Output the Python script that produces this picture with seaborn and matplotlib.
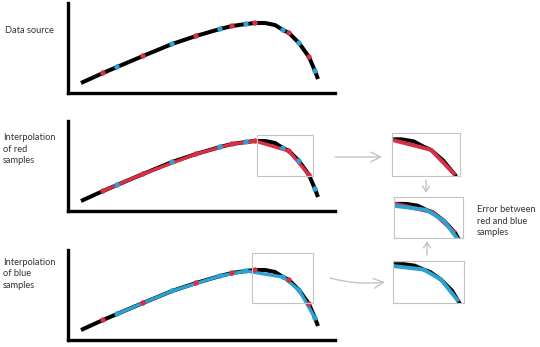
import matplotlib
matplotlib.use("Agg")
import matplotlib.pyplot as plt
import seaborn as sns
from matplotlib.patches import Rectangle

sns.set_style("white")
plt.rcParams['font.family'] = ['Lato', 'DejaVu Sans']

# ---- data ----
curve_x = [13, 35, 49, 75, 104, 128, 152, 164, 178, 187, 197, 207, 215, 221, 231, 241, 247, 250]
curve_y = [10, 20, 26, 37, 49, 57, 64, 67, 69, 70, 70, 68, 63, 60, 50, 36, 22, 14]
red_x = [35, 75, 128, 164, 187, 221, 241]
red_y = [20, 37, 57, 67, 70, 60, 36]
blue_x = [49, 104, 152, 178, 215, 231, 247]
blue_y = [26, 49, 64, 69, 63, 50, 22]

row_labels = ["Data source", "Interpolation\nof red\nsamples", "Interpolation\nof blue\nsamples"]
error_label = "Error between\nred and blue\nsamples"

RED = "#d92f45"
BLUE = "#2aa3d4"
GREY = "#c4c4c4"
W, H = 540, 347

fig = plt.figure(figsize=(5.4, 3.47), dpi=100)
fig.patch.set_facecolor("white")

overlay = fig.add_axes([0, 0, 1, 1])
overlay.set_xlim(0, W)
overlay.set_ylim(H, 0)
overlay.axis("off")


def px_axes(left, top, right, bottom, z=2):
    ax = fig.add_axes([left / W, 1 - bottom / H, (right - left) / W, (bottom - top) / H], zorder=z)
    ax.set_facecolor("none")
    ax.set_xticks([])
    ax.set_yticks([])
    ax.set_xlabel("")
    ax.set_ylabel("")
    return ax


def line(ax, x, y, color, lw):
    sns.lineplot(x=x, y=y, ax=ax, color=color, linewidth=lw, sort=False,
                 estimator=None, solid_capstyle="butt")


def dots(ax, x, y, color):
    sns.scatterplot(x=x, y=y, ax=ax, color=color, s=15, edgecolor="none", zorder=3)


def main_panel(top, bottom):
    ax = px_axes(68, top, 335, bottom)
    for s in ["top", "right"]:
        ax.spines[s].set_visible(False)
    for s in ["left", "bottom"]:
        ax.spines[s].set_color("black")
        ax.spines[s].set_linewidth(2.4)
    ax.set_xlim(0, 267)
    ax.set_ylim(0, 90)
    line(ax, curve_x, curve_y, "black", 2.9)
    dots(ax, red_x, red_y, RED)
    dots(ax, blue_x, blue_y, BLUE)
    ax.set_xticks([])
    ax.set_yticks([])
    ax.set_xlabel("")
    ax.set_ylabel("")
    return ax


ax1 = main_panel(3, 93)
ax2 = main_panel(121, 211)
line(ax2, red_x, red_y, RED, 2.4)
ax2.add_patch(Rectangle((189, 35), 56, 41, fill=False, edgecolor=GREY, lw=0.8, clip_on=False, zorder=5))
ax3 = main_panel(250, 340)
line(ax3, blue_x, blue_y, BLUE, 2.4)
ax3.add_patch(Rectangle((184, 37), 61, 50, fill=False, edgecolor=GREY, lw=0.8, clip_on=False, zorder=5))


def zoom_panel(left, top, right, bottom, xlim, ylim, series):
    ax = px_axes(left, top, right, bottom, z=3)
    for s in ax.spines.values():
        s.set_color(GREY)
        s.set_linewidth(0.8)
    line(ax, curve_x, curve_y, "black", 2.8)
    for xs, ys, c in series:
        line(ax, xs, ys, c, 2.8)
    ax.set_xlim(*xlim)
    ax.set_ylim(*ylim)
    ax.set_xticks([])
    ax.set_yticks([])
    ax.set_xlabel("")
    ax.set_ylabel("")
    return ax


zoom_panel(392, 133, 460, 176, (189, 245), (35, 76), [(red_x, red_y, RED)])
zoom_panel(394, 197, 463, 238, (186, 248), (30, 78), [(red_x, red_y, RED), (blue_x, blue_y, BLUE)])
zoom_panel(393, 261, 464, 303, (187, 252), (20, 74), [(blue_x, blue_y, BLUE)])

# text labels
fs = 6.7
tc = "#333333"
overlay.text(5, 30, row_labels[0], fontsize=fs, va="center", ha="left", color=tc)
overlay.text(3, 149, row_labels[1], fontsize=fs, va="center", ha="left", linespacing=1.35, color=tc)
overlay.text(3, 274, row_labels[2], fontsize=fs, va="center", ha="left", linespacing=1.35, color=tc)
overlay.text(477, 221, error_label, fontsize=fs, va="center", ha="left", linespacing=1.35, color=tc)

# arrows
ap = dict(arrowstyle="->,head_length=0.7,head_width=0.35", color=GREY, lw=1.0,
          shrinkA=0, shrinkB=0)
overlay.annotate("", xy=(382, 157), xytext=(335, 157), arrowprops=ap)
overlay.annotate("", xy=(385, 282), xytext=(330, 278),
                 arrowprops=dict(ap, connectionstyle="arc3,rad=0.1"))
overlay.annotate("", xy=(426, 193), xytext=(426, 180),
                 arrowprops=dict(ap, arrowstyle="->,head_length=0.4,head_width=0.25"))
overlay.annotate("", xy=(427, 241), xytext=(427, 255),
                 arrowprops=dict(ap, arrowstyle="->,head_length=0.4,head_width=0.25"))

fig.savefig("out.png", dpi=100, facecolor="white")
